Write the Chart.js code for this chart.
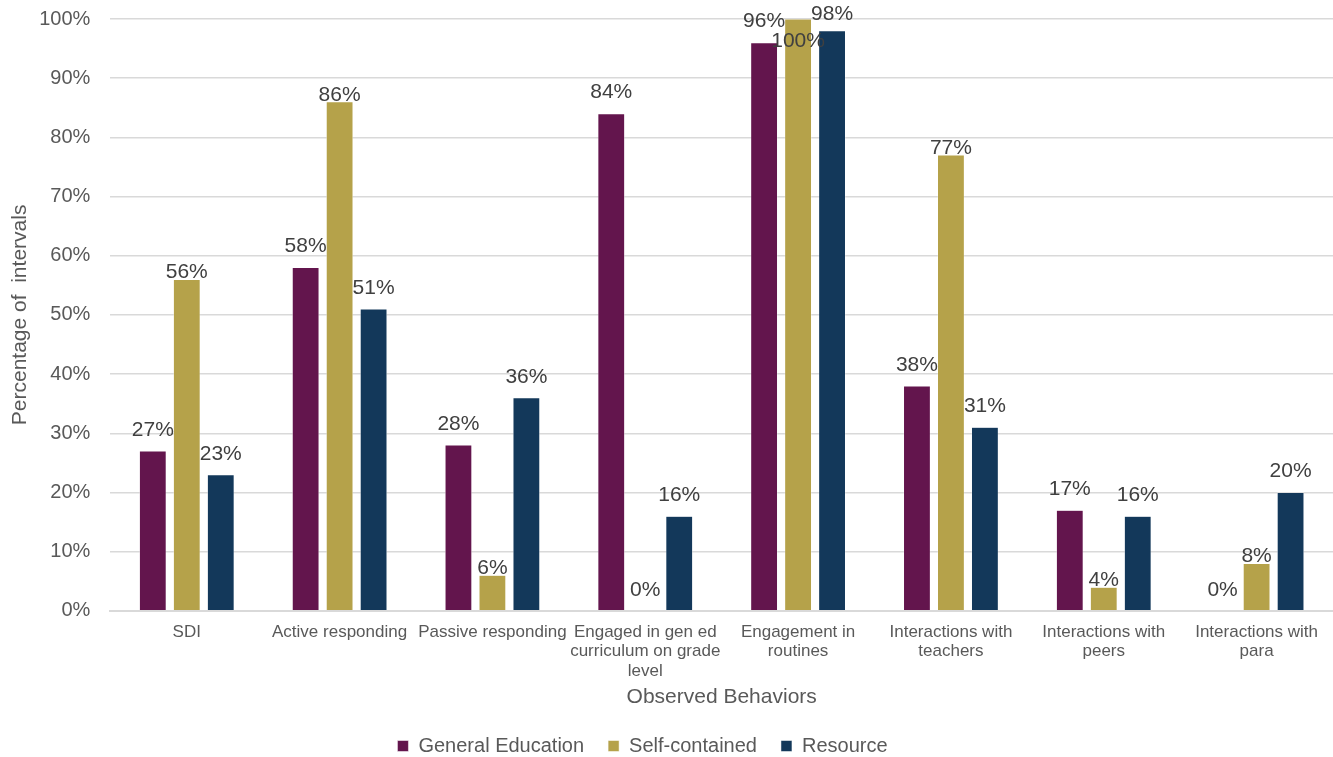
<!DOCTYPE html>
<html>
<head>
<meta charset="utf-8">
<script src="https://cdn.jsdelivr.net/npm/chart.js@4/dist/chart.umd.min.js"></script>
<style>
  html, body { margin: 0; padding: 0; background: #fff; overflow: hidden; }
  #wrap { width: 1333px; height: 757px; }
</style>
</head>
<body>
<div id="wrap"><canvas id="grafico"></canvas></div>
<script>
// categorias e séries
const categorias = [
    "SDI",
    "Active responding",
    "Passive responding",
    ["Engaged in gen ed", "curriculum on grade", "level"],
    ["Engagement in", "routines"],
    ["Interactions with", "teachers"],
    ["Interactions with", "peers"],
    ["Interactions with", "para"]
];
const generalEducation = [27, 58, 28, 84, 96, 38, 17, 0];
const selfContained = [56, 86, 6, 0, 100, 77, 4, 8];
const resource = [23, 51, 36, 16, 98, 31, 16, 20];
const yTicks = [0, 10, 20, 30, 40, 50, 60, 70, 80, 90, 100];

const cinza = "#595959";
const fonte = "'Liberation Sans', Arial, sans-serif";

// rótulos de valor acima das barras
const rotulos = {
    id: "rotulos",
    afterDatasetsDraw(chart) {
        const ctx = chart.ctx;
        ctx.save();
        ctx.font = "21px " + fonte;
        ctx.fillStyle = "#404040";
        ctx.textAlign = "center";
        ctx.textBaseline = "middle";
        chart.data.datasets.forEach((ds, i) => {
            const desloc = ds.labelOffset;
            chart.getDatasetMeta(i).data.forEach((bar, j) => {
                const v = ds.data[j];
                let y = bar.y - (v > 0 ? desloc : 21);
                if (v >= 100) y = bar.y + 22;      // sem espaço acima: dentro da barra
                y = Math.max(y, 14);
                ctx.fillText(v + "%", bar.x, y);
            });
        });
        ctx.restore();
    }
};

// legenda um pouco à esquerda, como no original
const legendaEsquerda = {
    id: "legendaEsquerda",
    afterLayout(chart) {
        chart.legend.left -= 28;
        chart.legend.right -= 28;
    }
};

new Chart(document.getElementById("grafico"), {
    type: "bar",
    data: {
        labels: categorias,
        datasets: [
            { label: "General Education", data: generalEducation, backgroundColor: "#63154D", borderColor: "#ffffff", borderWidth: 0.5, labelOffset: 21 },
            { label: "Self-contained", data: selfContained, backgroundColor: "#B5A24A", borderColor: "#ffffff", borderWidth: 0.5, labelOffset: 7 },
            { label: "Resource", data: resource, backgroundColor: "#13385A", borderColor: "#ffffff", borderWidth: 0.5, labelOffset: 21 }
        ]
    },
    options: {
        responsive: true,
        maintainAspectRatio: false,
        animation: false,
        categoryPercentage: 0.667,
        barPercentage: 0.79,
        layout: { padding: { top: 19, right: 0, left: 8, bottom: -9 } },
        plugins: {
            legend: {
                position: "bottom",
                labels: {
                    color: cinza,
                    font: { size: 20, family: fonte },
                    boxWidth: 11,
                    boxHeight: 11,
                    padding: 24
                }
            },
            tooltip: { enabled: false }
        },
        scales: {
            x: {
                grid: { display: false, drawTicks: false },
                border: { color: "#d9d9d9", width: 2 },
                ticks: {
                    color: cinza,
                    font: { size: 17, family: fonte, lineHeight: 1.176 },
                    maxRotation: 0,
                    autoSkip: false,
                    padding: 11
                },
                title: {
                    display: true,
                    text: "Observed Behaviors",
                    color: cinza,
                    font: { size: 21, family: fonte },
                    padding: { top: -8, bottom: 2 }
                }
            },
            y: {
                min: 0,
                max: 100,
                afterBuildTicks(axis) { axis.ticks = yTicks.map(v => ({ value: v })); },
                afterFit(axis) { axis.paddingTop = 0; axis.paddingBottom = 0; },
                grid: { color: "#d9d9d9", lineWidth: 1.5, drawTicks: false },
                border: { display: false },
                ticks: {
                    color: cinza,
                    font: { size: 20, family: fonte },
                    padding: 20,
                    callback: v => v + "%"
                },
                title: {
                    display: true,
                    text: "Percentage of  intervals",
                    color: cinza,
                    font: { size: 21, family: fonte },
                    padding: { top: 0, bottom: -14 }
                }
            }
        }
    },
    plugins: [rotulos, legendaEsquerda]
});
</script>
</body>
</html>
